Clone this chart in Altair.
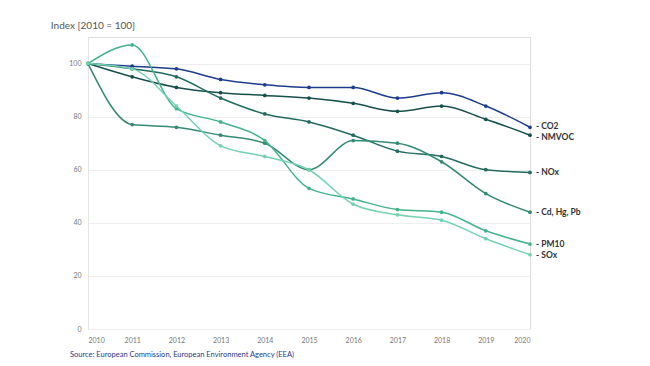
import altair as alt
import pandas as pd

years = list(range(2010, 2021))
series = ["CO2", "NMVOC", "NOx", "Cd, Hg, Pb", "PM10", "SOx"]
co2 = [100, 99, 98, 94, 92, 91, 91, 87, 89, 84, 76]
nmvoc = [100, 95, 91, 89, 88, 87, 85, 82, 84, 79, 73]
nox = [100, 98, 95, 87, 81, 78, 73, 67, 65, 60, 59]
cd = [100, 77, 76, 73, 70, 60, 71, 70, 63, 51, 44]
pm10 = [100, 107, 83, 78, 71, 53, 49, 45, 44, 37, 32]
sox = [100, 98, 84, 69, 65, 60, 47, 43, 41, 34, 28]
colors = ["#1d3c8c", "#17504a", "#236b5f", "#348a74", "#45b38a", "#74d2b0"]
y_ticks = [0, 20, 40, 60, 80, 100]

values = [co2, nmvoc, nox, cd, pm10, sox]
rows = []
for name, vals in zip(series, values):
    for yr, v in zip(years, vals):
        rows.append({"year": yr, "series": name, "value": v, "label": "- " + name})
df = pd.DataFrame(rows)

W, H = 442, 292
FONT = "Lato"

x = alt.X("year:Q", scale=alt.Scale(domain=[2010, 2020], nice=False),
          axis=alt.Axis(values=years, format="d", title=None, grid=False, domain=False,
                        ticks=False, labelPadding=7, labelFontSize=7, labelColor="#777",
                        labelFont=FONT))
y = alt.Y("value:Q", scale=alt.Scale(domain=[0, 110], nice=False),
          axis=alt.Axis(values=y_ticks, title=None, grid=True, gridColor="#eeeeee",
                        domain=True, domainColor="#e6e6e6", ticks=False, labelPadding=7,
                        labelFontSize=7, labelColor="#777", labelFont=FONT))
color = alt.Color("series:N", scale=alt.Scale(domain=series, range=colors), legend=None)

base = alt.Chart(df)
lines = base.mark_line(interpolate="monotone", strokeWidth=1.5).encode(x=x, y=y, color=color, detail="series:N")
points = base.mark_point(filled=True, size=14, opacity=1).encode(x=x, y=y, color=color)

def label_layer(names, dy):
    return base.transform_filter(alt.datum.year == 2020).transform_filter(
        alt.FieldOneOfPredicate(field="series", oneOf=names)
    ).mark_text(
        align="left", baseline="middle", dx=6, dy=dy, fontSize=8.5, fontWeight="bold",
        font=FONT, color="#333333"
    ).encode(x=x, y=y, text="label:N")

labels_top = label_layer(["CO2"], -1)
labels_mid = label_layer(["NMVOC"], 2)
labels_rest = label_layer(["NOx", "Cd, Hg, Pb", "PM10", "SOx"], 0)

source = alt.Chart(pd.DataFrame({"t": ["Source: European Commission, European Environment Agency (EEA)"]})).mark_text(
    align="left", baseline="middle", fontSize=7.5, font=FONT, color="#1d3c8c"
).encode(x=alt.value(-18), y=alt.value(H + 26), text="t:N")

chart = alt.layer(lines, points, labels_top, labels_mid, labels_rest, source).properties(
    width=W, height=H,
    autosize=alt.AutoSizeParams(type="none"),
    padding={"left": 80, "top": 29, "right": 100, "bottom": 35},
    title=alt.TitleParams("Index [2010 = 100]", anchor="start", dx=-18, offset=6,
                          fontSize=10, font=FONT, fontWeight="normal", color="#555555"),
).configure_view(stroke=None).configure(background="white")

chart.save("out.html", embed_options={"renderer": "svg", "actions": False})
